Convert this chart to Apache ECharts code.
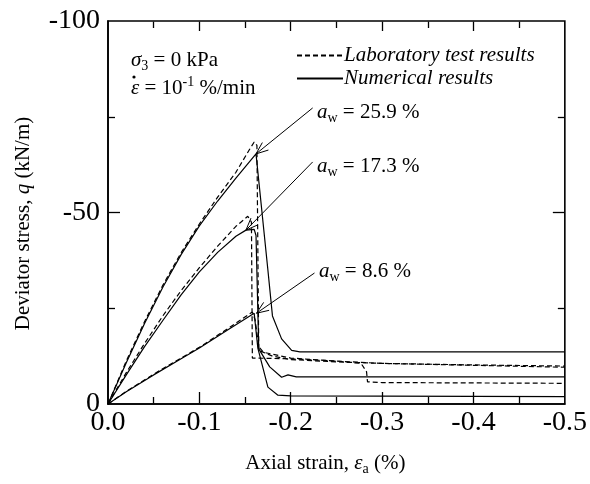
<!DOCTYPE html>
<html lang="en">
<head>
<meta charset="UTF-8">
<title>Deviator stress vs axial strain</title>
<script src="https://cdn.jsdelivr.net/npm/echarts/dist/echarts.min.js"></script>
<style>
    body { margin: 0; padding: 0; background: #fff; }
    #chart { width: 590px; height: 484px; }
</style>
</head>
<body>
<div id="chart"></div>
<script>
    // [axial strain (%), deviator stress q (kN/m)]
    const lab259 = [[0, 0], [-0.02, -11.2], [-0.04, -21.5], [-0.06, -31], [-0.08, -39.5], [-0.10, -47], [-0.12, -54],
        [-0.14, -60.5], [-0.155, -66.5], [-0.16, -68.4], [-0.163, -67.5], [-0.165, -14], [-0.18, -12.5], [-0.2, -11.6],
        [-0.25, -11], [-0.3, -10.6], [-0.4, -10.2], [-0.5, -9.9]];
    const lab173 = [[0, 0], [-0.02, -8.2], [-0.04, -15.8], [-0.06, -23], [-0.08, -29.6], [-0.10, -35.6], [-0.12, -41.2],
        [-0.14, -46.4], [-0.153, -49], [-0.157, -47.5], [-0.158, -12], [-0.2, -11.8], [-0.25, -11.2], [-0.277, -10.6],
        [-0.283, -8.4], [-0.284, -5.8], [-0.3, -5.6], [-0.4, -5.5], [-0.5, -5.4]];
    const lab086 = [[0, 0], [-0.02, -3.3], [-0.05, -7.8], [-0.08, -12], [-0.10, -14.8], [-0.13, -19.5], [-0.158, -24],
        [-0.161, -22], [-0.165, -15], [-0.17, -13.5], [-0.18, -13], [-0.2, -12], [-0.25, -11.2], [-0.3, -10.6],
        [-0.4, -10.1], [-0.5, -9.6]];

    const num259 = [[0, 0], [-0.02, -10.8], [-0.04, -21], [-0.06, -30.5], [-0.08, -39], [-0.10, -46.5], [-0.12, -53],
        [-0.14, -59], [-0.162, -65.3], [-0.175, -35], [-0.18, -23], [-0.19, -17], [-0.201, -14], [-0.21, -13.6],
        [-0.5, -13.6]];
    const num173 = [[0, 0], [-0.02, -7.6], [-0.04, -15], [-0.06, -21.8], [-0.08, -28.5], [-0.10, -34.5], [-0.12, -39.6],
        [-0.14, -43.8], [-0.151, -45.4], [-0.16, -45.6], [-0.162, -44], [-0.165, -14.4], [-0.177, -9.7], [-0.19, -7],
        [-0.197, -7.6], [-0.206, -7.1], [-0.5, -7.1]];
    const num086 = [[0, 0], [-0.02, -3.2], [-0.05, -7.6], [-0.08, -11.8], [-0.10, -14.6], [-0.13, -19.2], [-0.16, -23.7],
        [-0.164, -14.6], [-0.175, -4.4], [-0.186, -2.3], [-0.2, -2.1], [-0.5, -1.9]];

    // tick positions
    const xMajorTicks = [-0.1, -0.2, -0.3, -0.4];
    const xMinorTicks = [-0.05, -0.15, -0.25, -0.35, -0.45];
    const yMajorTicks = [-50];
    const yMinorTicks = [-25, -75];

    // annotation arrows: [label end, peak]
    const arrows = [
        [[-0.224, -77.3], [-0.162, -65.3]],
        [[-0.224, -63.2], [-0.151, -45.4]],
        [[-0.226, -34.2], [-0.1625, -23.7]]
    ];
    const waterContents = ['25.9', '17.3', '8.6'];

    const FONT = 'Liberation Serif';
    const LAB = 'Laboratory test results';
    const NUM = 'Numerical results';

    const chart = echarts.init(document.getElementById('chart'));

    function curve(name, data, dashed) {
        return {
            name: name,
            type: 'line',
            data: data,
            symbol: 'none',
            silent: true,
            itemStyle: { color: '#000' },
            lineStyle: { color: '#000', width: 1.2, type: dashed ? [5, 3] : 'solid' }
        };
    }

    function segments(name, list, width) {
        return {
            name: name,
            type: 'line',
            data: [],
            silent: true,
            markLine: {
                silent: true,
                animation: false,
                symbol: ['none', 'none'],
                label: { show: false },
                lineStyle: { color: '#000', width: width, type: 'solid' },
                emphasis: { disabled: true },
                data: list.map(function (s) { return [{ coord: s[0] }, { coord: s[1] }]; })
            }
        };
    }

    const richText = {
        n: { fontFamily: FONT, fontSize: 21, lineHeight: 26, color: '#000' },
        i: { fontFamily: FONT, fontSize: 21, lineHeight: 26, fontStyle: 'italic', color: '#000' },
        sub: { fontFamily: FONT, fontSize: 14, lineHeight: 14, verticalAlign: 'bottom', color: '#000' },
        sup: { fontFamily: FONT, fontSize: 14, lineHeight: 14, verticalAlign: 'top', color: '#000' }
    };

    const labelY = [112, 166, 271];
    const labelX = [317, 317, 319];

    const graphics = [
        { type: 'text', x: 131, y: 60, style: { text: '{i|σ}{sub|3}{n| = 0 kPa}', rich: richText, verticalAlign: 'middle' } },
        { type: 'text', x: 131, y: 88, style: { text: '{i|ε}{n| = 10}{sup|-1}{n| %/min}', rich: richText, verticalAlign: 'middle' } },
        { type: 'circle', shape: { cx: 134, cy: 77, r: 1.6 }, style: { fill: '#000' } }
    ];
    waterContents.forEach(function (w, k) {
        graphics.push({
            type: 'text', x: labelX[k], y: labelY[k],
            style: { text: '{i|a}{sub|w}{n| = ' + w + ' %}', rich: richText, verticalAlign: 'middle' }
        });
    });

    const axisBase = {
        type: 'value',
        splitLine: { show: false },
        minorSplitLine: { show: false },
        axisTick: { show: false },
        axisLine: { show: true, onZero: false, lineStyle: { color: '#000', width: 1.6 } }
    };

    const baseSeries = [
        curve(LAB, lab259, true),
        curve(LAB, lab173, true),
        curve(LAB, lab086, true),
        curve(NUM, num259, false),
        curve(NUM, num173, false),
        curve(NUM, num086, false),
        segments('arrows', arrows, 1)
    ];

    const option = {
        backgroundColor: '#fff',
        animation: false,
        grid: {
            left: 108, right: 24, top: 21, bottom: 80,
            show: true, borderColor: '#000', borderWidth: 1.6, backgroundColor: 'transparent'
        },
        legend: {
            data: [LAB, NUM],
            orient: 'vertical',
            left: 291,
            top: 40,
            itemWidth: 46,
            itemHeight: 14,
            itemGap: 2,
            selectedMode: false,
            itemStyle: { opacity: 0 },
            textStyle: { fontFamily: FONT, fontSize: 21, fontStyle: 'italic', color: '#000', padding: [0, 0, 0, -4] }
        },
        xAxis: Object.assign({}, axisBase, {
            min: -0.5, max: 0, interval: 0.1, inverse: true,
            name: '{n|Axial strain, }{i|ε}{sub|a}{n| (%)}',
            nameLocation: 'middle',
            nameGap: 46,
            nameTextStyle: { rich: richText, padding: [0, 22, 0, 0] },
            axisLabel: {
                fontFamily: FONT, fontSize: 28, color: '#000', margin: 5,
                formatter: function (v) { return Math.abs(v) < 1e-9 ? '0.0' : v.toFixed(1); }
            }
        }),
        yAxis: Object.assign({}, axisBase, {
            min: -100, max: 0, interval: 50, inverse: true,
            name: '{n|Deviator stress, }{i|q}{n| (kN/m)}',
            nameLocation: 'middle',
            nameGap: 72,
            nameRotate: 90,
            nameTextStyle: { rich: richText, padding: [0, 22, 0, 0] },
            axisLabel: {
                fontFamily: FONT, fontSize: 28, color: '#000', margin: 8,
                formatter: function (v) { return v === 0 ? '0' : String(v); }
            }
        }),
        graphic: graphics,
        series: baseSeries
    };

    chart.setOption(option);

    // ticks and arrow heads: fixed pixel lengths, converted back through the axes' scales.
    // each tick starts a hair inside the frame so the mark line is not dropped at the extent edge
    const toPx = function (v) { return chart.convertToPixel({ gridIndex: 0 }, v); };
    const toData = function (p) { return chart.convertFromPixel({ gridIndex: 0 }, p); };
    const IN = 0.6;

    const tickSegs = [];
    function xTick(v, lenBottom, lenTop) {
        const b = toPx([v, 0]), t = toPx([v, -100]);
        tickSegs.push([toData([b[0], b[1] - IN]), toData([b[0], b[1] - lenBottom])]);
        tickSegs.push([toData([t[0], t[1] + IN]), toData([t[0], t[1] + lenTop])]);
    }
    function yTick(v, lenLeft, lenRight) {
        const l = toPx([0, v]), r = toPx([-0.5, v]);
        tickSegs.push([toData([l[0] + IN, l[1]]), toData([l[0] + lenLeft, l[1]])]);
        tickSegs.push([toData([r[0] - IN, r[1]]), toData([r[0] - lenRight, r[1]])]);
    }
    xMajorTicks.forEach(function (v) { xTick(v, 12, 10); });
    xMinorTicks.forEach(function (v) { xTick(v, 7, 7); });
    yMajorTicks.forEach(function (v) { yTick(v, 12, 12); });
    yMinorTicks.forEach(function (v) { yTick(v, 7, 7); });

    const headSegs = [];
    arrows.forEach(function (a) {
        const s = toPx(a[0]), t = toPx(a[1]);
        const dx = s[0] - t[0], dy = s[1] - t[1];
        const d = Math.sqrt(dx * dx + dy * dy);
        const ux = dx / d, uy = dy / d;
        [0.38, -0.38].forEach(function (ang) {
            const c = Math.cos(ang), sn = Math.sin(ang);
            const ex = t[0] + 13 * (ux * c - uy * sn);
            const ey = t[1] + 13 * (ux * sn + uy * c);
            headSegs.push([a[1], toData([ex, ey])]);
        });
    });

    chart.setOption({
        series: baseSeries.concat([segments('ticks', tickSegs, 1.3), segments('heads', headSegs, 1)])
    });
</script>
</body>
</html>
